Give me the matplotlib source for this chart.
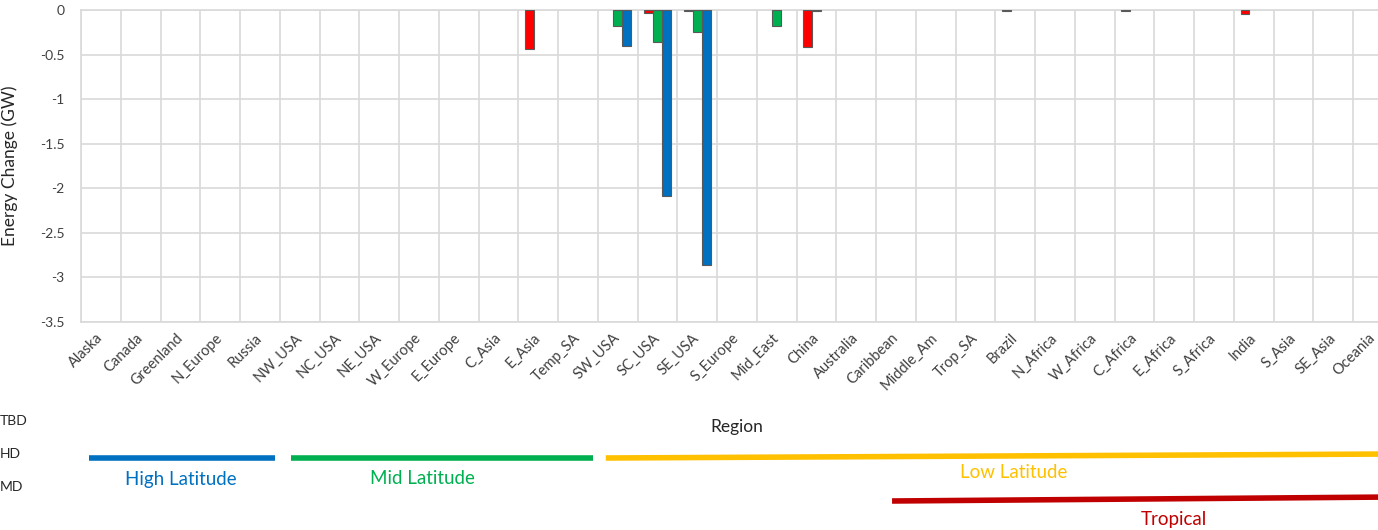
import numpy as np
import matplotlib.pyplot as plt
from matplotlib.transforms import blended_transform_factory

plt.rcParams['font.family'] = ['Lato', 'DejaVu Sans']

regions = ['Alaska', 'Canada', 'Greenland', 'N_Europe', 'Russia', 'NW_USA', 'NC_USA',
           'NE_USA', 'W_Europe', 'E_Europe', 'C_Asia', 'E_Asia', 'Temp_SA', 'SW_USA',
           'SC_USA', 'SE_USA', 'S_Europe', 'Mid_East', 'China', 'Australia', 'Caribbean',
           'Middle_Am', 'Trop_SA', 'Brazil', 'N_Africa', 'W_Africa', 'C_Africa', 'E_Africa',
           'S_Africa', 'India', 'S_Asia', 'SE_Asia', 'Oceania']

# energy change (GW) per region, regions left out have no bar
tbd = {'E_Asia': -0.44, 'SC_USA': -0.03, 'SE_USA': -0.01, 'China': -0.41,
       'Brazil': -0.01, 'C_Africa': -0.01, 'India': -0.04}
hd = {'SW_USA': -0.18, 'SC_USA': -0.36, 'SE_USA': -0.25, 'Mid_East': -0.18, 'China': -0.01}
md = {'SW_USA': -0.40, 'SC_USA': -2.09, 'SE_USA': -2.86}

series_names = ['TBD', 'HD', 'MD']
series_vals = [tbd, hd, md]
series_cols = ['#FF0000', '#00B050', '#0070C0']

group_names = ['High Latitude', 'Mid Latitude', 'Low Latitude', 'Tropical']
group_first = ['Alaska', 'NW_USA', 'SW_USA', 'Caribbean']
group_last = ['Russia', 'Temp_SA', 'Oceania', 'Oceania']
group_cols = ['#0070C0', '#00B050', '#FFC000', '#C00000']

W, H = 1378, 530
fig = plt.figure(figsize=(W / 100, H / 100), dpi=100)
# right edge of the plot runs past the picture (cropped original)
ax = fig.add_axes([81 / W, 1 - 322 / H, 1312 / W, 312 / H])

x = np.arange(len(regions))
bw = 0.215
for k, (vals, col) in enumerate(zip(series_vals, series_cols)):
    xs = [regions.index(r) for r in vals]
    ax.bar(np.array(xs) + (k - 1) * 0.226, list(vals.values()), bw,
           color=col, edgecolor='#595959', linewidth=0.8, zorder=3)

ax.set_xlim(-0.5, len(regions) - 0.5)
ax.set_ylim(-3.5, 0)
ax.set_yticks(np.arange(-3.5, 0.01, 0.5))
ax.set_yticklabels(['%g' % v for v in np.arange(-3.5, 0.01, 0.5)])
ax.set_xticks(x)
ax.set_xticklabels(regions, rotation=45, ha='right', va='center', rotation_mode='anchor')
ax.set_xticks(np.arange(-0.5, len(regions), 1), minor=True)
ax.tick_params(axis='both', which='both', length=0, labelsize=10, colors='#404040')
ax.tick_params(axis='x', pad=10, labelsize=10.5)
ax.tick_params(axis='y', pad=12)
ax.grid(True, axis='y', color='#D9D9D9', linewidth=1.2, zorder=0)
ax.grid(True, axis='x', which='minor', color='#D9D9D9', linewidth=1.2, zorder=0)
for s in ax.spines.values():
    s.set_color('#D9D9D9')
    s.set_linewidth(1.2)

ax.set_ylabel('Energy Change (GW)', fontsize=12.5, color='#262626')
ax.yaxis.set_label_coords(-0.048, 0.5)
ax.set_xlabel('Region', fontsize=12.5, color='#262626')
ax.xaxis.set_label_coords(0.5, -0.335)
ax.xaxis.label.set_va('center')

# cut-off legend entries on the left
for name, yp in zip(series_names, [421, 454, 487]):
    fig.text(0.0, 1 - yp / H, name, fontsize=10, color='#262626', va='center', ha='left')

# region group bars under the axis
tr = blended_transform_factory(ax.transData, fig.transFigure)
start_pad = [-0.3, -0.22, -0.3, -0.1]
line_y = [(458, 458), (458, 458), (458, 454), (501, 497)]
label_x = [2.0, 8.1, 22.95, 27.0]
label_y = [479, 478, 473, 519]
for name, a, b, col, sp, ly, lx, ty in zip(group_names, group_first, group_last, group_cols,
                                            start_pad, line_y, label_x, label_y):
    x0 = regions.index(a) + sp
    x1 = regions.index(b) + 0.38 if b != 'Oceania' else len(regions) - 0.5
    fig.add_artist(plt.Line2D([x0, x1], [1 - ly[0] / H, 1 - ly[1] / H], transform=tr,
                              color=col, linewidth=4, solid_capstyle='butt'))
    fig.text(lx, 1 - ty / H, name, transform=tr, fontsize=13.5, color=col,
             ha='center', va='center')

fig.savefig('out.png', dpi=100)
